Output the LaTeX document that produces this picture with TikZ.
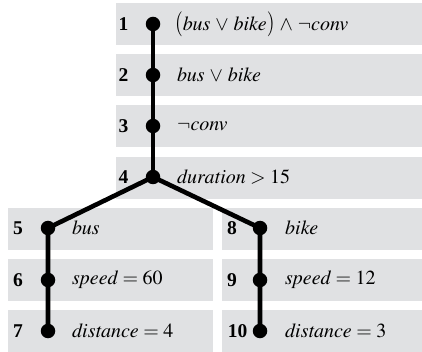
\documentclass[tikz,border=0pt]{standalone}
\usepackage{mathptmx}
\usepackage{fontspec}
\setmainfont{Liberation Serif}
\definecolor{boxgray}{RGB}{224,225,227}
\newcommand{\myor}{\mathbin{\,\vee\,}}
\newcommand{\myand}{\mathbin{\,\wedge\,}}
\newcommand{\bigpar}[1]{\mathopen{\scalebox{1}[1.25]{$#1$}}}
\newcommand{\bigparr}[1]{\mathclose{\scalebox{1}[1.25]{$#1$}}}
\begin{document}
\begin{tikzpicture}[x=1pt,y=-1pt,font=\fontsize{20}{24}\selectfont,
  rowbox/.style={fill=boxgray,draw=none,anchor=north west,minimum height=42pt,inner sep=0pt},
  dot/.style={circle,fill=black,inner sep=0pt,minimum size=14.5pt},
  num/.style={font=\fontsize{19.5}{23}\selectfont\bfseries,anchor=center},
  lab/.style={anchor=west,inner sep=0pt},
  edge/.style={line width=4.6pt}]
\useasboundingbox (0,0) rectangle (422,352);
% boxes
\node[rowbox,minimum width=306pt] (b1) at (116,3) {};
\node[rowbox,minimum width=306pt] (b2) at (116,54) {};
\node[rowbox,minimum width=306pt] (b3) at (116,105) {};
\node[rowbox,minimum width=306pt] (b4) at (116,157) {};
\node[rowbox,minimum width=205pt] (b5) at (8,208) {};
\node[rowbox,minimum width=205pt] (b6) at (8,259) {};
\node[rowbox,minimum width=205pt] (b7) at (8,310) {};
\node[rowbox,minimum width=200pt] (b8) at (222,208) {};
\node[rowbox,minimum width=200pt] (b9) at (222,259) {};
\node[rowbox,minimum width=200pt] (b10) at (222,310) {};
% dots
\node[dot] (d1) at (153,24) {};
\node[dot] (d2) at (153,75) {};
\node[dot] (d3) at (153,126) {};
\node[dot] (d4) at (153,177) {};
\node[dot] (d5) at (48,228) {};
\node[dot] (d6) at (48,280) {};
\node[dot] (d7) at (48,331) {};
\node[dot] (d8) at (260,228) {};
\node[dot] (d9) at (260,280) {};
\node[dot] (d10) at (260,331) {};
% edges
\draw[edge] (d1.center) -- (d2.center) -- (d3.center) -- (d4.center);
\draw[edge] (d4.center) -- (d5.center) -- (d6.center) -- (d7.center);
\draw[edge] (d4.center) -- (d8.center) -- (d9.center) -- (d10.center);
% numbers
\node[num] (n1) at (123.5,24) {1};
\node[num] (n2) at (123.5,75) {2};
\node[num] (n3) at (123.5,126) {3};
\node[num] (n4) at (123.5,177) {4};
\node[num] (n5) at (18,228) {5};
\node[num] (n6) at (18,280) {6};
\node[num] (n7) at (18,331) {7};
\node[num] (n8) at (232,228) {8};
\node[num] (n9) at (232,280) {9};
\node[num] (n10) at (237.5,331) {10};
% labels
\node[lab] (l1) at (175,24) {$\bigpar{(}\mathit{bus}\myor\mathit{bike}\bigparr{)}\myand\neg\mathit{conv}$};
\node[lab] (l2) at (177,75) {$\mathit{bus}\myor\mathit{bike}$};
\node[lab] (l3) at (177,126) {$\neg\mathit{conv}$};
\node[lab] (l4) at (177,177) {$\mathit{duration}>15$};
\node[lab] (l5) at (72,228) {$\mathit{bus}$};
\node[lab] (l6) at (72,280) {$\mathit{speed}=60$};
\node[lab] (l7) at (72,331) {$\mathit{distance}=4$};
\node[lab] (l8) at (285,228) {$\mathit{bike}$};
\node[lab] (l9) at (285,280) {$\mathit{speed}=12$};
\node[lab] (l10) at (285,331) {$\mathit{distance}=3$};
\end{tikzpicture}
\end{document}
